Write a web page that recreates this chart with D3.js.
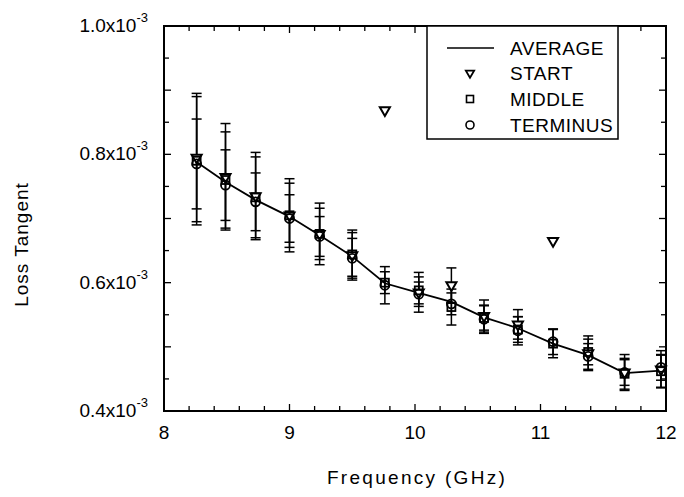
<!DOCTYPE html>
<html>
<head>
<meta charset="utf-8">
<script src="https://cdn.jsdelivr.net/npm/d3@7"></script>
<style>
  body { margin: 0; background: #fff; }
  text { font-family: "Liberation Sans", Arial, sans-serif; fill: #000; }
</style>
</head>
<body>
<div id="chart"></div>
<script>
// values in units of 10^-3
const freq = [8.26, 8.49, 8.73, 9.0, 9.24, 9.5, 9.76, 10.03, 10.29, 10.55, 10.82, 11.1, 11.38, 11.67, 11.96];
const average = [0.788, 0.757, 0.729, 0.703, 0.674, 0.641, 0.599, 0.584, 0.570, 0.546, 0.529, 0.505, 0.487, 0.459, 0.463];

const startVal = [0.795, 0.765, 0.735, 0.705, 0.676, 0.643, 0.869, 0.585, 0.596, 0.548, 0.535, 0.665, 0.490, 0.460, 0.465];
const startErr = [0.100, 0.083, 0.068, 0.057, 0.048, 0.039, 0, 0.031, 0.027, 0.025, 0.023, 0, 0.027, 0.028, 0.029];
const middleVal = [0.790, 0.760, 0.733, 0.705, 0.676, 0.644, 0.600, 0.588, 0.562, 0.545, 0.527, 0.505, 0.492, 0.458, 0.462];
const middleErr = [0.100, 0.075, 0.063, 0.050, 0.040, 0.034, 0.017, 0.021, 0.028, 0.019, 0.020, 0.022, 0.020, 0.024, 0.025];
const terminusVal = [0.785, 0.752, 0.726, 0.700, 0.672, 0.638, 0.596, 0.582, 0.567, 0.543, 0.525, 0.508, 0.485, 0.460, 0.468];
const terminusErr = [0.070, 0.055, 0.045, 0.037, 0.031, 0.031, 0.029, 0.019, 0.017, 0.022, 0.022, 0.020, 0.020, 0.020, 0.020];

const xLabels = [8, 9, 10, 11, 12];
const yLabels = ["0.4", "0.6", "0.8", "1.0"];
const legendNames = ["AVERAGE", "START", "MIDDLE", "TERMINUS"];

const W = 684, H = 497;
const pl = 164, pr = 666, pt = 26, pb = 411;

const svg = d3.select("#chart").append("svg")
    .attr("width", W)
    .attr("height", H);

const x = d3.scaleLinear().domain([8, 12]).range([pl, pr]);
const y = d3.scaleLinear().domain([0.4, 1.0]).range([pb, pt]);

// frame
svg.append("rect")
    .attr("x", pl).attr("y", pt)
    .attr("width", pr - pl).attr("height", pb - pt)
    .attr("fill", "none").attr("stroke", "#000").attr("stroke-width", 2);

// ticks (inward, all four sides)
const xt = d3.range(8, 12.001, 0.2);
const yt = d3.range(0.4, 1.0001, 0.05);
const tk = svg.append("g").attr("stroke", "#000").attr("stroke-width", 1.3);
xt.forEach(function(v) {
    const len = Math.abs(v - Math.round(v)) < 1e-6 ? 7 : 5;
    tk.append("line").attr("x1", x(v)).attr("x2", x(v)).attr("y1", pb).attr("y2", pb - len);
    tk.append("line").attr("x1", x(v)).attr("x2", x(v)).attr("y1", pt).attr("y2", pt + len);
});
yt.forEach(function(v) {
    const len = Math.abs(v * 10 - Math.round(v * 10)) < 1e-6 ? 7 : 5;
    tk.append("line").attr("x1", pl).attr("x2", pl + len).attr("y1", y(v)).attr("y2", y(v));
    tk.append("line").attr("x1", pr).attr("x2", pr - len).attr("y1", y(v)).attr("y2", y(v));
});

// x tick labels
svg.append("g").selectAll("text")
    .data(xLabels).enter().append("text")
    .attr("x", d => x(d))
    .attr("y", pb + 28)
    .attr("text-anchor", "middle")
    .style("font-size", "19px")
    .text(d => d);

// y tick labels with superscript
const yl = svg.append("g").selectAll("text")
    .data(yLabels).enter().append("text")
    .attr("x", pl - 16)
    .attr("y", d => y(+d) + 6)
    .attr("text-anchor", "end")
    .style("font-size", "19px");
yl.append("tspan").text(d => d + "x10");
yl.append("tspan").attr("dy", -10).style("font-size", "13px").text("-3");

// axis titles
svg.append("text")
    .attr("x", (pl + pr) / 2 + 2)
    .attr("y", 484)
    .attr("text-anchor", "middle")
    .style("font-size", "19px")
    .style("letter-spacing", "2.3px")
    .text("Frequency (GHz)");

svg.append("text")
    .attr("transform", "translate(28," + ((pt + pb) / 2 + 26) + ") rotate(-90)")
    .attr("text-anchor", "middle")
    .style("font-size", "19px")
    .style("letter-spacing", "1px")
    .text("Loss Tangent");

// error bars
function errorBars(vals, errs) {
    const g = svg.append("g").attr("stroke", "#000").attr("stroke-width", 1.5);
    vals.forEach(function(v, i) {
        if (!errs[i]) return;
        const cx = x(freq[i]);
        g.append("line").attr("x1", cx).attr("x2", cx).attr("y1", y(v - errs[i])).attr("y2", y(v + errs[i]));
        [v - errs[i], v + errs[i]].forEach(function(e) {
            g.append("line").attr("x1", cx - 5).attr("x2", cx + 5).attr("y1", y(e)).attr("y2", y(e));
        });
    });
}
errorBars(startVal, startErr);
errorBars(middleVal, middleErr);
errorBars(terminusVal, terminusErr);

// average line
svg.append("path")
    .datum(average)
    .attr("fill", "none")
    .attr("stroke", "#000")
    .attr("stroke-width", 1.8)
    .attr("d", d3.line().x((d, i) => x(freq[i])).y(d => y(d)));

// markers
const tri = d3.symbol().type(d3.symbolTriangle).size(44);
svg.append("g").selectAll("path")
    .data(startVal).enter().append("path")
    .attr("d", tri)
    .attr("transform", (d, i) => "translate(" + x(freq[i]) + "," + y(d) + ") rotate(180)")
    .attr("fill", "#fff").attr("stroke", "#000").attr("stroke-width", 2);

svg.append("g").selectAll("rect")
    .data(middleVal).enter().append("rect")
    .attr("x", (d, i) => x(freq[i]) - 4)
    .attr("y", d => y(d) - 4)
    .attr("width", 8).attr("height", 8)
    .attr("fill", "none").attr("stroke", "#000").attr("stroke-width", 1.8);

svg.append("g").selectAll("circle")
    .data(terminusVal).enter().append("circle")
    .attr("cx", (d, i) => x(freq[i]))
    .attr("cy", d => y(d))
    .attr("r", 4.5)
    .attr("fill", "none").attr("stroke", "#000").attr("stroke-width", 1.8);

// legend
const lg = svg.append("g");
lg.append("rect")
    .attr("x", 427).attr("y", pt)
    .attr("width", 191).attr("height", 113)
    .attr("fill", "#fff").attr("stroke", "#000").attr("stroke-width", 1.5);
const rowY = [48, 73, 99, 125];
legendNames.forEach(function(name, i) {
    lg.append("text")
        .attr("x", 510).attr("y", rowY[i] + 7)
        .style("font-size", "19px")
        .style("letter-spacing", "0.5px")
        .text(name);
});
lg.append("line").attr("x1", 447).attr("x2", 494).attr("y1", rowY[0]).attr("y2", rowY[0])
    .attr("stroke", "#000").attr("stroke-width", 1.5);
lg.append("path").attr("d", d3.symbol().type(d3.symbolTriangle).size(30))
    .attr("transform", "translate(470," + rowY[1] + ") rotate(180)")
    .attr("fill", "#fff").attr("stroke", "#000").attr("stroke-width", 1.8);
lg.append("rect").attr("x", 466.5).attr("y", rowY[2] - 3.5).attr("width", 7).attr("height", 7)
    .attr("fill", "none").attr("stroke", "#000").attr("stroke-width", 1.6);
lg.append("circle").attr("cx", 470).attr("cy", rowY[3]).attr("r", 4)
    .attr("fill", "none").attr("stroke", "#000").attr("stroke-width", 1.6);
</script>
</body>
</html>
